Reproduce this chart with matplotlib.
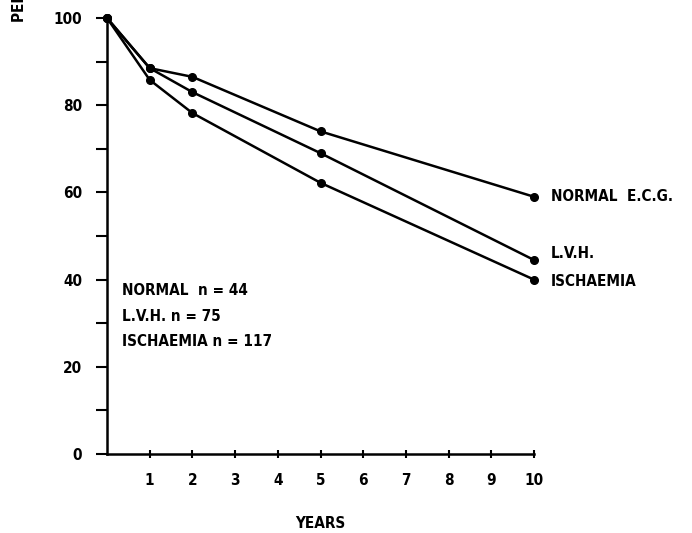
import matplotlib
matplotlib.use("Agg")
import matplotlib.pyplot as plt
from matplotlib.ticker import MultipleLocator
from matplotlib import font_manager

years = [0, 1, 2, 5, 10]
normal = [100, 88.5, 86.5, 74, 59]
lvh = [100, 88.5, 83, 69, 44.5]
ischaemia = [100, 85.8, 78.2, 62.2, 40]
series_labels = ["NORMAL  E.C.G.", "L.V.H.", "ISCHAEMIA"]
count_lines = ["NORMAL  n = 44", "L.V.H. n = 75", "ISCHAEMIA n = 117"]
xticks = list(range(1, 11))
yticks = [0, 20, 40, 60, 80, 100]

names = {f.name for f in font_manager.fontManager.ttflist}
fams = [n for n in ("Liberation Sans Narrow", "DejaVu Sans") if n in names] or ["DejaVu Sans"]
FONT = dict(family=fams, weight="bold", stretch="condensed")

fig = plt.figure(figsize=(6.92, 5.33), dpi=100)
ax = fig.add_axes([107/692, 1-454/533, (534-107)/692, (454-18)/533])

for ys in (normal, lvh, ischaemia):
    ax.plot(years, ys, color="black", lw=1.8, marker="o", ms=5.5, clip_on=False)

ax.set_xlim(0, 10)
ax.set_ylim(0, 100)
for s in ("top", "right"):
    ax.spines[s].set_visible(False)
ax.spines["left"].set_linewidth(1.8)
ax.spines["bottom"].set_linewidth(1.8)

ax.set_xticks(xticks)
ax.set_xticklabels([str(t) for t in xticks], fontsize=11, **FONT)
ax.tick_params(axis="x", direction="inout", length=6, width=1.5, pad=11)
ax.set_yticks(yticks)
ax.set_yticklabels([str(t) for t in yticks], fontsize=11, **FONT)
ax.yaxis.set_minor_locator(MultipleLocator(10))
ax.tick_params(axis="y", which="major", direction="out", length=8, width=1.5, pad=10)
ax.tick_params(axis="y", which="minor", direction="out", length=8, width=1.5)

ax.set_xlabel("YEARS", fontsize=11, labelpad=20, **FONT)

ends = [normal[-1], lvh[-1], ischaemia[-1]]
offsets = [0, 1.5, -0.5]
for lab, yv, off in zip(series_labels, ends, offsets):
    ax.annotate(lab, xy=(10, yv + off), xytext=(12, 0), textcoords="offset points",
                va="center", ha="left", fontsize=11, annotation_clip=False, **FONT)

for i, line in enumerate(count_lines):
    ax.text(0.035, 0.375 - i * 0.059, line, transform=ax.transAxes,
            fontsize=11, va="center", ha="left", **FONT)

fig.text(20/692, 1-22/533, "PERCENT SURVIVAL", rotation=90, va="bottom", ha="center",
         fontsize=11, **FONT)

fig.savefig("out.png", dpi=100)
